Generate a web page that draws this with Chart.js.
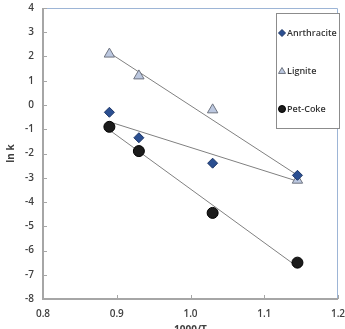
<!DOCTYPE html>
<html>
<head>
<meta charset="utf-8">
<script src="https://cdn.jsdelivr.net/npm/chart.js@4"></script>
<style>
  html, body { margin: 0; padding: 0; overflow: hidden; background: #fff; }
  #wrap { width: 345px; height: 336px; }
</style>
</head>
<body>
<div id="wrap"><canvas id="myChart" width="345" height="336"></canvas></div>
<script>
// Werte
const xValues = [0.89, 0.93, 1.03, 1.145];
const anthracite = [-0.3, -1.35, -2.4, -2.9];
const lignite = [2.1, 1.2, -0.2, -3.1];
const petCoke = [-0.9, -1.9, -4.45, -6.5];
const seriesNames = ['Anrthracite', 'Lignite', 'Pet-Coke'];
const xTickValues = [0.8, 0.9, 1.0, 1.1, 1.2];
const yTickValues = [4, 3, 2, 1, 0, -1, -2, -3, -4, -5, -6, -7, -8];

const toPoints = (ys) => ys.map((y, i) => ({ x: xValues[i], y: y }));

// lineare Trendlinie (kleinste Quadrate), von erstem bis letztem x
function trend(ys) {
  const n = ys.length;
  const mx = xValues.reduce((a, b) => a + b, 0) / n;
  const my = ys.reduce((a, b) => a + b, 0) / n;
  let sxy = 0, sxx = 0;
  for (let i = 0; i < n; i++) {
    sxy += (xValues[i] - mx) * (ys[i] - my);
    sxx += (xValues[i] - mx) * (xValues[i] - mx);
  }
  const m = sxy / sxx;
  const x0 = xValues[0], x1 = xValues[n - 1];
  return [{ x: x0, y: my + m * (x0 - mx) }, { x: x1, y: my + m * (x1 - mx) }];
}

const styles = [
  { pointStyle: 'rectRot', radius: 5, bg: '#2B4F91', border: '#1C3566' },
  { pointStyle: 'triangle', radius: 6, bg: '#BCC8E0', border: '#6F7480' },
  { pointStyle: 'circle', radius: 5.5, bg: '#1B1B1B', border: '#000000' }
];

const allSeries = [anthracite, lignite, petCoke];

const datasets = [];
allSeries.forEach((ys) => {
  datasets.push({
    type: 'line',
    data: trend(ys),
    borderColor: '#808080',
    borderWidth: 1,
    pointRadius: 0,
    fill: false,
    order: 2
  });
});
allSeries.forEach((ys, i) => {
  datasets.push({
    type: 'scatter',
    label: seriesNames[i],
    data: toPoints(ys),
    pointStyle: styles[i].pointStyle,
    pointRadius: styles[i].radius,
    pointHoverRadius: styles[i].radius,
    backgroundColor: styles[i].bg,
    borderColor: styles[i].border,
    borderWidth: 1,
    order: 1
  });
});

function drawMarker(ctx, style, x, y, r) {
  ctx.beginPath();
  if (style === 'rectRot') {
    ctx.moveTo(x, y - r); ctx.lineTo(x + r, y); ctx.lineTo(x, y + r); ctx.lineTo(x - r, y);
    ctx.closePath();
  } else if (style === 'triangle') {
    ctx.moveTo(x, y - r); ctx.lineTo(x + r, y + r * 0.7); ctx.lineTo(x - r, y + r * 0.7);
    ctx.closePath();
  } else {
    ctx.arc(x, y, r, 0, Math.PI * 2);
  }
  ctx.fill();
  ctx.stroke();
}

// Rahmen, innere Ticks und Legende
const framePlugin = {
  id: 'frame',
  afterDatasetsDraw(chart) {
    const ctx = chart.ctx;
    const a = chart.chartArea;
    const xs = chart.scales.x, ys = chart.scales.y;
    ctx.save();
    ctx.lineWidth = 1;
    ctx.strokeStyle = '#9DB5D6';
    ctx.beginPath();
    ctx.moveTo(a.left, a.top + 0.5); ctx.lineTo(a.right - 0.5, a.top + 0.5); ctx.lineTo(a.right - 0.5, a.bottom);
    ctx.stroke();
    ctx.strokeStyle = '#A6A6A6';
    ctx.lineWidth = 2;
    ctx.beginPath();
    ctx.moveTo(a.left, a.top); ctx.lineTo(a.left, a.bottom); ctx.lineTo(a.right, a.bottom);
    ctx.stroke();
    ctx.lineWidth = 1;
    ctx.beginPath();
    xTickValues.forEach((v) => {
      const px = Math.round(xs.getPixelForValue(v)) + 0.5;
      ctx.moveTo(px, a.bottom); ctx.lineTo(px, a.bottom - 4);
    });
    yTickValues.forEach((v) => {
      const py = Math.round(ys.getPixelForValue(v)) + 0.5;
      ctx.moveTo(a.left, py); ctx.lineTo(a.left + 4, py);
    });
    ctx.stroke();

    // Legende
    const bx = 276, by = 13, bw = 63, bh = 115;
    ctx.fillStyle = '#ffffff';
    ctx.fillRect(bx, by, bw, bh);
    ctx.strokeStyle = '#8C8C8C';
    ctx.lineWidth = 1;
    ctx.strokeRect(bx + 0.5, by + 0.5, bw, bh);
    const itemY = [33, 71, 109];
    ctx.font = '600 9px "Open Sans"';
    ctx.textBaseline = 'middle';
    seriesNames.forEach((name, i) => {
      ctx.fillStyle = styles[i].bg;
      ctx.strokeStyle = styles[i].border;
      drawMarker(ctx, styles[i].pointStyle, bx + 6, itemY[i], 3.5);
      ctx.fillStyle = '#333333';
      ctx.fillText(name, bx + 11, itemY[i] + 0.5);
    });
    ctx.restore();
  }
};

const tickFont = { family: '"Open Sans"', size: 10, weight: '600' };

function noPad(s) {
  s.paddingLeft = 0; s.paddingRight = 0; s.paddingTop = 0; s.paddingBottom = 0;
}

const myChart = new Chart(document.getElementById('myChart'), {
  data: { datasets: datasets },
  options: {
    responsive: false,
    animation: false,
    devicePixelRatio: 1,
    layout: { padding: { top: 8, right: 5, left: 0, bottom: 0 } },
    plugins: { legend: { display: false }, tooltip: { enabled: false } },
    scales: {
      x: {
        type: 'linear',
        min: 0.8,
        max: 1.2,
        afterBuildTicks: (s) => { s.ticks = xTickValues.map((v) => ({ value: v })); },
        afterFit: (s) => { s.height = 37; noPad(s); },
        grid: { display: false, drawTicks: false },
        border: { display: false },
        ticks: {
          padding: 9,
          color: '#404040',
          font: tickFont,
          callback: (v) => Number(v).toFixed(1)
        },
        title: { display: true, text: '1000/T', color: '#404040', font: { family: '"Open Sans"', size: 10, weight: 'bold' }, padding: 0 }
      },
      y: {
        type: 'linear',
        min: -8,
        max: 4,
        afterBuildTicks: (s) => { s.ticks = yTickValues.map((v) => ({ value: v })); },
        afterFit: (s) => { s.width = 43; noPad(s); },
        grid: { display: false, drawTicks: false },
        border: { display: false },
        ticks: {
          padding: 9,
          color: '#404040',
          font: tickFont
        },
        title: { display: true, text: 'ln k', color: '#404040', font: { family: '"Open Sans"', size: 10, weight: 'bold' }, padding: { top: 5, bottom: 0 } }
      }
    }
  },
  plugins: [framePlugin]
});
</script>
</body>
</html>
